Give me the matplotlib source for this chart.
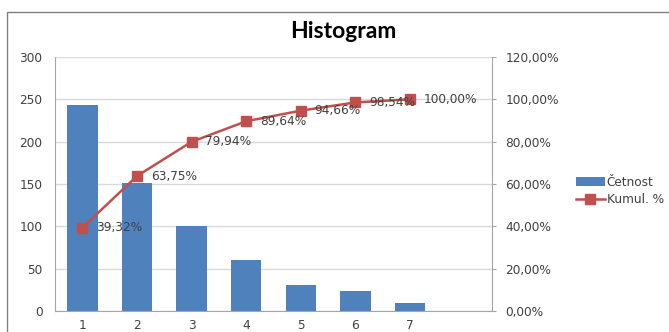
import numpy as np
import matplotlib
matplotlib.use("Agg")
import matplotlib.pyplot as plt
from matplotlib.patches import Rectangle
from matplotlib.ticker import FuncFormatter

# data
categories = [1, 2, 3, 4, 5, 6, 7]
counts = [243, 151, 100, 60, 31, 24, 9]
cumul = [39.32, 63.75, 79.94, 89.64, 94.66, 98.54, 100.00]
cumul_labels = ["39,32%", "63,75%", "79,94%", "89,64%", "94,66%", "98,54%", "100,00%"]

bar_col = "#4F81BD"
line_col = "#C0504D"
grid_col = "#D9D9D9"
axis_col = "#A6A6A6"
text_col = "#404040"

plt.rcParams['font.family'] = ['DejaVu Sans']

fig = plt.figure(figsize=(6.69, 3.32), dpi=100)
fig.patches.append(Rectangle((7 / 669, -0.1), 1.0, 1 - 12 / 332 + 0.1,
                             transform=fig.transFigure, fill=False,
                             edgecolor="#808080", linewidth=1.0))

ax = fig.add_axes([55 / 669, 1 - 311 / 332, (492 - 55) / 669, (311 - 57) / 332])
ax2 = ax.twinx()

ax.bar(categories, counts, width=0.56, color=bar_col, label="Četnost", zorder=2)
ax.set_xlim(0.5, 8.5)
ax.set_ylim(0, 300)
ax.set_yticks(range(0, 301, 50))
ax.set_xticks(categories)
ax.yaxis.grid(True, color=grid_col, linewidth=1.0, zorder=0)
ax.set_axisbelow(True)

ax2.plot(categories, cumul, color=line_col, linewidth=1.8, marker="s",
         markersize=7, label="Kumul. %", zorder=3)
for x, y, t in zip(categories, cumul, cumul_labels):
    ax2.annotate(t, (x, y), xytext=(10, 0), textcoords="offset points",
                 fontsize=8.7, color=text_col, va="center", ha="left")
ax2.set_ylim(0, 120)
ax2.set_yticks(range(0, 121, 20))
ax2.yaxis.set_major_formatter(FuncFormatter(lambda v, p: f"{v:.2f}%".replace(".", ",")))

for a in (ax, ax2):
    for s in a.spines.values():
        s.set_visible(False)
ax.spines["left"].set_visible(True)
ax.spines["left"].set_color(axis_col)
ax.spines["bottom"].set_visible(True)
ax.spines["bottom"].set_color(axis_col)
ax2.spines["right"].set_visible(True)
ax2.spines["right"].set_color(axis_col)

ax.tick_params(axis="y", length=0, pad=9, labelsize=8.7, labelcolor=text_col)
ax.tick_params(axis="x", length=0, pad=6, labelsize=8.7, labelcolor=text_col)
ax2.tick_params(axis="y", length=3, color=axis_col, pad=6.5, labelsize=8.7, labelcolor=text_col)

fig.text(343 / 669, 1 - 32 / 332, "Histogram", ha="center", va="center",
         fontsize=16.5, fontweight="bold", family=["Lato", "DejaVu Sans"])

h1, l1 = ax.get_legend_handles_labels()
h2, l2 = ax2.get_legend_handles_labels()
fig.legend(h1 + h2, l1 + l2, loc="center left", bbox_to_anchor=(565 / 669, 1 - 191 / 332),
           frameon=False, fontsize=8.7, handlelength=2.4, handletextpad=0.15,
           labelspacing=0.4, labelcolor=text_col)

fig.savefig("out.png", dpi=100)
